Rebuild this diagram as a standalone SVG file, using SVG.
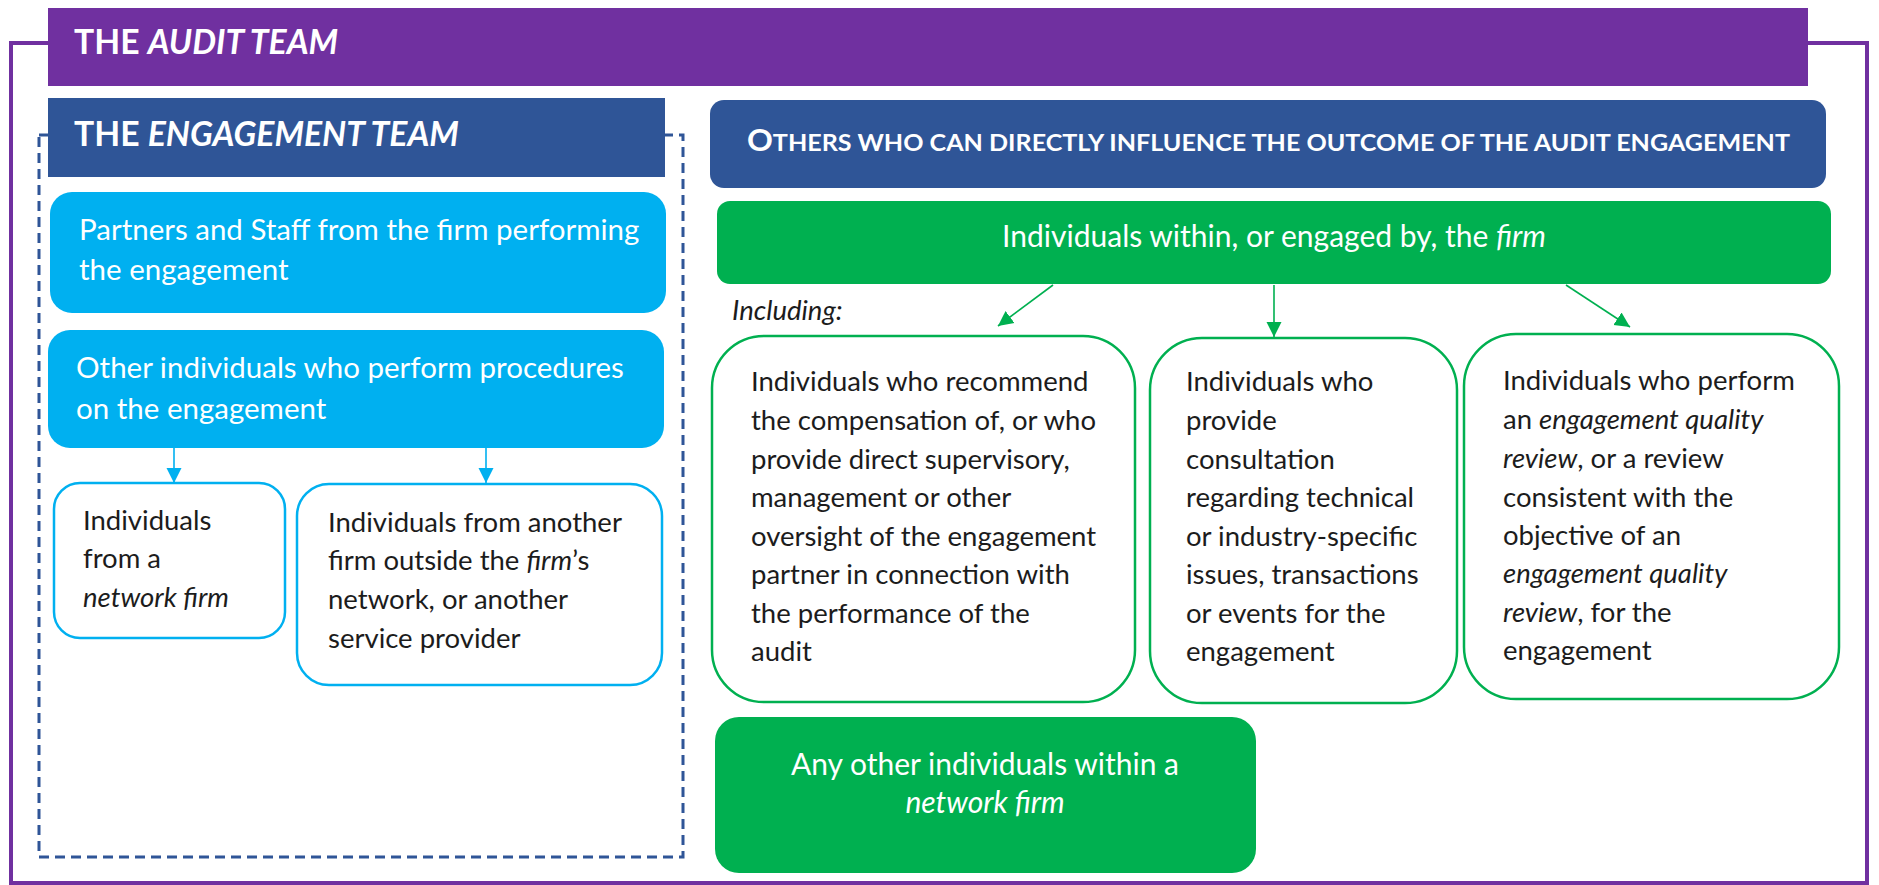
<svg xmlns="http://www.w3.org/2000/svg" width="1879" height="885" viewBox="0 0 1879 885">
<style>
text{font-family:Lato,"Liberation Sans",sans-serif}
.title{font-size:33.7px;font-weight:bold;fill:#fff}
.fill{font-size:30px;fill:#fff}
.fb{font-size:29.5px}
.body{font-size:27.5px;fill:#1c1c1c}
.it{font-style:italic}
.bl{fill:#00B0F0}
.gr{fill:#00B050}
.ob{fill:#fff;stroke:#00B0F0;stroke-width:2.5}
.og{fill:#fff;stroke:#00B050;stroke-width:2.5}
.cb{stroke:#00B0F0;stroke-width:1.6;fill:none}
.cg{stroke:#00B050;stroke-width:1.6;fill:none}
</style>
<defs>
<marker id="ab" markerUnits="userSpaceOnUse" markerWidth="16" markerHeight="16" viewBox="0 0 16 16" refX="15" refY="8" orient="auto">
<path d="M0,0.5 L15,8 L0,15.5 Z" fill="#00B0F0"/>
</marker>
<marker id="ag" markerUnits="userSpaceOnUse" markerWidth="16" markerHeight="16" viewBox="0 0 16 16" refX="15" refY="8" orient="auto">
<path d="M0,0.5 L15,8 L0,15.5 Z" fill="#00B050"/>
</marker>
</defs>
<rect width="1879" height="885" fill="#fff"/>

<g id="audit-team">
<rect x="11" y="43" width="1856" height="840" fill="none" stroke="#7030A0" stroke-width="4"/>
<rect x="48" y="8" width="1760" height="78" fill="#7030A0"/>
<text class="title" x="74" y="54">THE <tspan class="it">AUDIT TEAM</tspan></text>
</g>

<g id="engagement-team">
<rect x="39" y="135" width="644" height="722" fill="none" stroke="#2F5597" stroke-width="3" stroke-dasharray="10,6"/>
<rect x="48" y="98" width="617" height="79" fill="#2F5597"/>
<text class="title" x="74" y="146">THE <tspan class="it">ENGAGEMENT TEAM</tspan></text>
</g>

<g id="partners-staff">
<rect x="50" y="192" width="616" height="121" rx="22" class="bl"/>
<text class="fill fb" x="79" y="240">Partners and Staff from the firm performing</text>
<text class="fill fb" x="79" y="280">the engagement</text>
</g>

<g id="other-individuals">
<rect x="48" y="330" width="616" height="118" rx="22" class="bl"/>
<text class="fill fb" x="76" y="378">Other individuals who perform procedures</text>
<text class="fill fb" x="76" y="419">on the engagement</text>
</g>

<g id="network-firm">
<rect x="54" y="483" width="231" height="155" rx="26" class="ob"/>
<text class="body" x="83" y="530">Individuals</text>
<text class="body" x="83" y="568">from a</text>
<text class="body it" x="83" y="607">network firm</text>
</g>

<g id="another-firm">
<rect x="297" y="484" width="365" height="201" rx="32" class="ob"/>
<text class="body" x="328" y="532">Individuals from another</text>
<text class="body" x="328" y="570">firm outside the <tspan class="it">firm</tspan>’s</text>
<text class="body" x="328" y="609">network, or another</text>
<text class="body" x="328" y="648">service provider</text>
</g>

<g id="others-header">
<rect x="710" y="100" width="1116" height="88" rx="14" fill="#2F5597"/>
<text x="747" y="151" font-weight="bold" fill="#fff" textLength="1043" lengthAdjust="spacingAndGlyphs"><tspan font-size="30">O</tspan><tspan font-size="23.5">THERS WHO CAN DIRECTLY INFLUENCE THE OUTCOME OF THE AUDIT ENGAGEMENT</tspan></text>
</g>

<g id="within-firm">
<rect x="717" y="201" width="1114" height="83" rx="13" class="gr"/>
<text class="fill" x="1274" y="247" text-anchor="middle">Individuals within, or engaged by, the <tspan class="it">firm</tspan></text>
</g>

<g id="including-label">
<text class="body it" x="732" y="320">Including:</text>
</g>

<g id="recommend">
<rect x="712" y="336" width="423" height="366" rx="52" class="og"/>
<text class="body" x="751" y="391">Individuals who recommend</text>
<text class="body" x="751" y="430">the compensation of, or who</text>
<text class="body" x="751" y="469">provide direct supervisory,</text>
<text class="body" x="751" y="507">management or other</text>
<text class="body" x="751" y="546">oversight of the engagement</text>
<text class="body" x="751" y="584">partner in connection with</text>
<text class="body" x="751" y="623">the performance of the</text>
<text class="body" x="751" y="661">audit</text>
</g>

<g id="consultation">
<rect x="1150" y="338" width="307" height="365" rx="52" class="og"/>
<text class="body" x="1186" y="391">Individuals who</text>
<text class="body" x="1186" y="430">provide</text>
<text class="body" x="1186" y="469">consultation</text>
<text class="body" x="1186" y="507">regarding technical</text>
<text class="body" x="1186" y="546">or industry-specific</text>
<text class="body" x="1186" y="584">issues, transactions</text>
<text class="body" x="1186" y="623">or events for the</text>
<text class="body" x="1186" y="661">engagement</text>
</g>

<g id="quality-review">
<rect x="1464" y="334" width="375" height="365" rx="52" class="og"/>
<text class="body" x="1503" y="390">Individuals who perform</text>
<text class="body" x="1503" y="429">an <tspan class="it">engagement quality</tspan></text>
<text class="body" x="1503" y="468"><tspan class="it">review</tspan>, or a review</text>
<text class="body" x="1503" y="507">consistent with the</text>
<text class="body" x="1503" y="545">objective of an</text>
<text class="body it" x="1503" y="583">engagement quality</text>
<text class="body" x="1503" y="622"><tspan class="it">review</tspan>, for the</text>
<text class="body" x="1503" y="660">engagement</text>
</g>

<g id="network-other">
<rect x="715" y="717" width="541" height="156" rx="24" class="gr"/>
<text class="fill" x="985" y="775" text-anchor="middle">Any other individuals within a</text>
<text class="fill it" x="985" y="813" text-anchor="middle">network firm</text>
</g>

<g id="connectors">
<line x1="174" y1="448" x2="174" y2="483" class="cb" marker-end="url(#ab)"/>
<line x1="486" y1="448" x2="486" y2="483" class="cb" marker-end="url(#ab)"/>
<line x1="1053" y1="285" x2="998" y2="326" class="cg" marker-end="url(#ag)"/>
<line x1="1274" y1="285" x2="1274" y2="337" class="cg" marker-end="url(#ag)"/>
<line x1="1566" y1="285" x2="1630" y2="327" class="cg" marker-end="url(#ag)"/>
</g>
</svg>
